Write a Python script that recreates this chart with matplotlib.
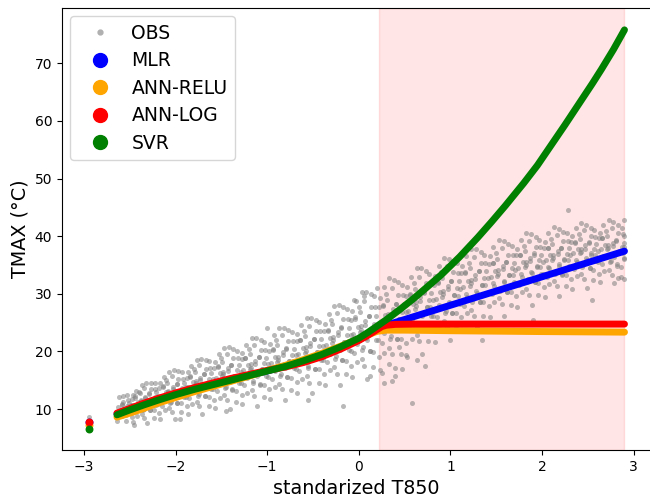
import numpy as np
import matplotlib.pyplot as plt
from matplotlib.lines import Line2D

# model curves
svr_x = [-2.64, -2.5, -2.35, -2.2, -2.0, -1.8, -1.6, -1.4, -1.2, -1.0, -0.8, -0.6, -0.4, -0.2,
         0.0, 0.1, 0.2, 0.3, 0.45, 0.6, 0.74, 0.9, 1.1, 1.3, 1.45, 1.6, 1.8, 1.95, 2.1, 2.25,
         2.4, 2.55, 2.65, 2.78, 2.9]
svr_y = [9.0, 9.85, 10.7, 11.5, 12.5, 13.4, 14.2, 15.0, 15.8, 16.6, 17.4, 18.4, 19.5, 20.8,
         22.3, 23.3, 24.4, 25.5, 27.3, 29.2, 31.1, 33.3, 36.4, 39.8, 42.5, 45.3, 49.2, 52.3, 55.8, 59.3,
         62.9, 66.5, 69.0, 72.4, 75.8]

log_x = [-2.64, -2.5, -2.35, -2.2, -2.0, -1.8, -1.6, -1.4, -1.2, -1.0, -0.8, -0.6, -0.4, -0.2,
         0.0, 0.1, 0.2, 0.25, 0.3, 0.4, 0.6, 1.0, 2.0, 2.9]
log_y = [9.3, 10.1, 11.0, 11.8, 12.8, 13.7, 14.5, 15.3, 16.0, 16.7, 17.3, 18.1, 19.1, 20.4,
         21.9, 22.8, 23.8, 24.3, 24.55, 24.7, 24.75, 24.75, 24.75, 24.75]

relu_x = [-2.64, -2.5, -2.35, -2.2, -2.0, -1.8, -1.6, -1.4, -1.2, -1.0, -0.8, -0.6, -0.4, -0.2,
          0.0, 0.1, 0.2, 0.3, 0.5, 1.0, 2.0, 2.9]
relu_y = [8.6, 9.3, 10.1, 11.0, 12.0, 13.0, 13.9, 14.8, 15.7, 16.7, 17.6, 18.6, 19.7, 20.9,
          22.2, 22.9, 23.5, 23.7, 23.7, 23.6, 23.45, 23.35]

mlr_x = [-2.64, -2.0, -1.5, -1.0, -0.5, 0.0, 0.2, 0.35, 2.9]
mlr_y = [9.2, 12.6, 14.7, 16.6, 18.9, 22.0, 24.0, 24.8, 37.4]

# isolated predictions at the far left
out_x = -2.95
out_mlr, out_relu, out_log, out_svr = 7.8, 7.2, 7.8, 6.5

# observations (estimated from the point cloud)
obs_x = [
    -2.64, -2.58, -2.61, -2.56, -2.63, -2.59, -2.57, -2.62,
    -2.47, -2.54, -2.49, -2.52, -2.46, -2.51, -2.48, -2.53,
    -2.42, -2.36, -2.43, -2.39, -2.38, -2.44, -2.40, -2.37,
    -2.34, -2.28, -2.31, -2.26, -2.33, -2.29, -2.27, -2.32,
    -2.17, -2.24, -2.19, -2.22, -2.16, -2.21, -2.18, -2.23,
    -2.12, -2.06, -2.13, -2.09, -2.08, -2.14, -2.10, -2.07,
    -2.04, -1.98, -2.01, -1.96, -2.03, -1.99, -1.97, -2.02,
    -1.87, -1.94, -1.89, -1.92, -1.86, -1.91, -1.88, -1.93,
    -1.82, -1.76, -1.83, -1.79, -1.78, -1.84, -1.80, -1.77,
    -1.74, -1.68, -1.71, -1.66, -1.73, -1.69, -1.67, -1.72,
    -1.57, -1.64, -1.59, -1.62, -1.56, -1.61, -1.58, -1.63,
    -1.52, -1.46, -1.53, -1.49, -1.48, -1.54, -1.50, -1.47,
    -1.44, -1.38, -1.41, -1.36, -1.43, -1.39, -1.37, -1.42,
    -1.27, -1.34, -1.29, -1.32, -1.26, -1.31, -1.28, -1.33,
    -1.22, -1.16, -1.23, -1.19, -1.18, -1.24, -1.20, -1.17,
    -1.14, -1.08, -1.11, -1.06, -1.13, -1.09, -1.07, -1.12,
    -0.97, -1.04, -0.99, -1.02, -0.96, -1.01, -0.98, -1.03,
    -0.92, -0.86, -0.93, -0.89, -0.88, -0.94, -0.90, -0.87,
    -0.84, -0.78, -0.81, -0.76, -0.83, -0.79, -0.77, -0.82,
    -0.67, -0.74, -0.69, -0.72, -0.66, -0.71, -0.68, -0.73,
    -0.62, -0.56, -0.63, -0.59, -0.58, -0.64, -0.60, -0.57,
    -0.54, -0.48, -0.51, -0.46, -0.53, -0.49, -0.47, -0.52,
    -0.37, -0.44, -0.39, -0.42, -0.36, -0.41, -0.38, -0.43,
    -0.32, -0.26, -0.33, -0.29, -0.28, -0.34, -0.30, -0.27,
    -0.24, -0.18, -0.21, -0.16, -0.23, -0.19, -0.17, -0.22,
    -0.07, -0.14, -0.09, -0.12, -0.06, -0.11, -0.08, -0.13,
    -0.02, 0.04, -0.03, 0.01, 0.02, -0.04, 0.00, 0.03,
    0.06, 0.12, 0.09, 0.14, 0.07, 0.11, 0.13, 0.08,
    0.23, 0.16, 0.21, 0.18, 0.24, 0.19, 0.22, 0.17,
    0.28, 0.34, 0.27, 0.31, 0.32, 0.26, 0.30, 0.33,
    0.36, 0.42, 0.39, 0.44, 0.37, 0.41, 0.43, 0.38,
    0.53, 0.46, 0.51, 0.48, 0.54, 0.49, 0.52, 0.47,
    0.58, 0.64, 0.57, 0.61, 0.62, 0.56, 0.60, 0.63,
    0.66, 0.72, 0.69, 0.74, 0.67, 0.71, 0.73, 0.68,
    0.83, 0.76, 0.81, 0.78, 0.84, 0.79, 0.82, 0.77,
    0.88, 0.94, 0.87, 0.91, 0.92, 0.86, 0.90, 0.93,
    0.96, 1.02, 0.99, 1.04, 0.97, 1.01, 1.03, 0.98,
    1.13, 1.06, 1.11, 1.08, 1.14, 1.09, 1.12, 1.07,
    1.18, 1.24, 1.17, 1.21, 1.22, 1.16, 1.20, 1.23,
    1.26, 1.32, 1.29, 1.34, 1.27, 1.31, 1.33, 1.28,
    1.43, 1.36, 1.41, 1.38, 1.44, 1.39, 1.42, 1.37,
    1.48, 1.54, 1.47, 1.51, 1.52, 1.46, 1.50, 1.53,
    1.56, 1.62, 1.59, 1.64, 1.57, 1.61, 1.63, 1.58,
    1.73, 1.66, 1.71, 1.68, 1.74, 1.69, 1.72, 1.67,
    1.78, 1.84, 1.77, 1.81, 1.82, 1.76, 1.80, 1.83,
    1.86, 1.92, 1.89, 1.94, 1.87, 1.91, 1.93, 1.88,
    2.03, 1.96, 2.01, 1.98, 2.04, 1.99, 2.02, 1.97,
    2.08, 2.14, 2.07, 2.11, 2.12, 2.06, 2.10, 2.13,
    2.16, 2.22, 2.19, 2.24, 2.17, 2.21, 2.23, 2.18,
    2.33, 2.26, 2.31, 2.28, 2.34, 2.29, 2.32, 2.27,
    2.38, 2.44, 2.37, 2.41, 2.42, 2.36, 2.40, 2.43,
    2.46, 2.52, 2.49, 2.54, 2.47, 2.51, 2.53, 2.48,
    2.63, 2.56, 2.61, 2.58, 2.64, 2.59, 2.62, 2.57,
    2.68, 2.74, 2.67, 2.71, 2.72, 2.66, 2.70, 2.73,
    2.76, 2.82, 2.79, 2.84, 2.77, 2.81, 2.83, 2.78,
    2.90, 2.86, 2.89, 2.88, 2.90, 2.89, 2.90, 2.87,
    -2.95, -2.45, -1.95, -1.45, -0.55, -0.17, 0.28, 0.40, 0.58, 0.72,
    1.35, 1.90, 2.55, 2.90, 2.83, 1.20, 0.20, -1.00, 2.28,
    0.25, 0.33, 0.47, 0.52, 0.64, 0.36, 0.44, 0.12, 0.06, -0.05,
]
obs_y = [
    8.0, 8.8, 9.4, 9.9, 10.3, 10.7, 11.2, 12.1,
    7.7, 8.9, 9.6, 10.1, 10.7, 11.1, 11.7, 12.4,
    8.8, 9.8, 10.4, 11.1, 11.5, 12.2, 13.0, 14.1,
    8.5, 9.8, 10.7, 11.4, 11.9, 12.7, 13.4, 14.6,
    8.3, 9.8, 10.8, 11.5, 12.3, 12.9, 13.6, 14.6,
    9.8, 11.0, 11.8, 12.6, 13.2, 14.0, 15.0, 16.4,
    9.5, 11.0, 12.1, 12.9, 13.5, 14.4, 15.2, 16.7,
    9.2, 11.0, 12.1, 13.0, 13.8, 14.5, 15.4, 16.5,
    10.9, 12.3, 13.2, 14.1, 14.8, 15.7, 16.9, 18.5,
    10.6, 12.2, 13.4, 14.4, 15.1, 16.1, 17.0, 18.7,
    10.2, 12.1, 13.4, 14.4, 15.4, 16.2, 17.2, 18.4,
    12.0, 13.6, 14.6, 15.7, 16.4, 17.5, 18.8, 20.6,
    11.5, 13.4, 14.7, 15.8, 16.6, 17.7, 18.8, 20.7,
    10.9, 13.1, 14.5, 15.6, 16.8, 17.6, 18.7, 20.1,
    12.8, 14.6, 15.7, 16.9, 17.8, 18.9, 20.4, 22.4,
    12.2, 14.3, 15.8, 17.0, 17.9, 19.1, 20.3, 22.4,
    11.7, 14.1, 15.6, 16.8, 18.0, 18.9, 20.1, 21.6,
    13.9, 15.7, 17.0, 18.2, 19.1, 20.4, 21.9, 24.1,
    13.4, 15.6, 17.2, 18.4, 19.3, 20.6, 21.8, 24.0,
    12.8, 15.4, 17.0, 18.3, 19.5, 20.5, 21.8, 23.4,
    15.2, 17.2, 18.4, 19.7, 20.7, 22.0, 23.6, 25.8,
    14.6, 16.9, 18.6, 19.9, 20.9, 22.2, 23.5, 25.8,
    14.2, 16.9, 18.5, 19.8, 21.2, 22.2, 23.5, 25.1,
    16.7, 18.7, 20.1, 21.4, 22.5, 23.8, 25.5, 27.9,
    16.1, 18.5, 20.3, 21.7, 22.8, 24.2, 25.6, 28.0,
    15.5, 18.3, 20.1, 21.6, 23.0, 24.1, 25.5, 27.3,
    18.1, 20.3, 21.8, 23.3, 24.4, 25.9, 27.7, 30.3,
    17.4, 20.1, 22.0, 23.5, 24.6, 26.2, 27.7, 30.3,
    16.8, 19.9, 21.9, 23.4, 25.0, 26.2, 27.7, 29.7,
    19.8, 22.2, 23.7, 25.3, 26.5, 28.0, 30.0, 32.7,
    19.5, 22.2, 24.1, 25.6, 26.7, 28.3, 29.8, 32.4,
    19.1, 22.1, 24.0, 25.5, 27.1, 28.2, 29.7, 31.6,
    22.2, 24.4, 25.9, 27.4, 28.5, 30.0, 31.8, 34.4,
    21.8, 24.4, 26.2, 27.7, 28.8, 30.3, 31.8, 34.4,
    21.6, 24.4, 26.2, 27.7, 29.1, 30.2, 31.6, 33.4,
    24.4, 26.6, 28.0, 29.5, 30.5, 32.0, 33.8, 36.3,
    24.2, 26.7, 28.4, 29.8, 30.9, 32.3, 33.7, 36.1,
    23.8, 26.6, 28.3, 29.7, 31.1, 32.2, 33.6, 35.3,
    26.6, 28.6, 30.0, 31.3, 32.4, 33.7, 35.4, 37.8,
    26.2, 28.5, 30.2, 31.6, 32.6, 34.0, 35.3, 37.7,
    25.9, 28.6, 30.2, 31.5, 32.9, 33.9, 35.2, 36.8,
    28.5, 30.5, 31.8, 33.1, 34.1, 35.4, 37.1, 39.4,
    28.2, 30.4, 32.0, 33.3, 34.3, 35.5, 36.8, 39.1,
    27.7, 30.3, 31.9, 33.2, 34.4, 35.4, 36.7, 38.3,
    30.3, 32.1, 33.4, 34.6, 35.5, 36.8, 38.3, 40.5,
    29.8, 32.0, 33.6, 34.8, 35.7, 37.0, 38.2, 40.4,
    29.5, 31.9, 33.4, 34.6, 35.8, 36.7, 37.9, 39.4,
    31.7, 33.5, 34.7, 35.9, 36.8, 38.0, 39.5, 41.6,
    31.4, 33.4, 34.8, 36.0, 36.9, 38.0, 39.2, 41.2,
    30.9, 33.2, 34.7, 35.8, 37.0, 37.9, 39.0, 40.5,
    33.1, 34.7, 35.9, 37.0, 37.8, 38.9, 40.3, 42.3,
    32.5, 34.5, 35.9, 37.0, 37.8, 39.0, 40.1, 42.0,
    32.1, 34.2, 35.6, 36.7, 37.7, 38.6, 39.6, 41.0,
    33.9, 35.5, 36.6, 37.7, 38.5, 39.6, 40.9, 42.8,
    33.2, 35.1, 36.4, 37.5, 38.3, 39.4, 40.5, 42.4,
    32.5, 34.6, 36.0, 37.1, 38.1, 38.9, 40.0, 41.4,
    8.7, 7.2, 8.3, 9.6, 11.6, 10.5, 14.6, 15.8, 11.0, 17.5,
    22.0, 25.5, 29.0, 42.8, 32.7, 38.5, 31.0, 24.0, 44.5,
    16.2, 17.8, 16.9, 19.4, 18.6, 14.9, 20.7, 15.8, 29.6, 28.9,
]

# second pass over the cloud, between the columns above
obs_x2 = [
    -2.54, -2.58, -2.51, -2.56, -2.53, -2.59, -2.52, -2.57,
    -2.48, -2.45, -2.42, -2.49, -2.41, -2.44, -2.47, -2.43,
    -2.31, -2.37, -2.35, -2.32, -2.38, -2.33, -2.39, -2.34,
    -2.24, -2.28, -2.21, -2.26, -2.23, -2.29, -2.22, -2.27,
    -2.18, -2.15, -2.12, -2.19, -2.11, -2.14, -2.17, -2.13,
    -2.01, -2.07, -2.05, -2.02, -2.08, -2.03, -2.09, -2.04,
    -1.94, -1.98, -1.91, -1.96, -1.93, -1.99, -1.92, -1.97,
    -1.88, -1.85, -1.82, -1.89, -1.81, -1.84, -1.87, -1.83,
    -1.71, -1.77, -1.75, -1.72, -1.78, -1.73, -1.79, -1.74,
    -1.64, -1.68, -1.61, -1.66, -1.63, -1.69, -1.62, -1.67,
    -1.58, -1.55, -1.52, -1.59, -1.51, -1.54, -1.57, -1.53,
    -1.41, -1.47, -1.45, -1.42, -1.48, -1.43, -1.49, -1.44,
    -1.34, -1.38, -1.31, -1.36, -1.33, -1.39, -1.32, -1.37,
    -1.28, -1.25, -1.22, -1.29, -1.21, -1.24, -1.27, -1.23,
    -1.11, -1.17, -1.15, -1.12, -1.18, -1.13, -1.19, -1.14,
    -1.04, -1.08, -1.01, -1.06, -1.03, -1.09, -1.02, -1.07,
    -0.98, -0.95, -0.92, -0.99, -0.91, -0.94, -0.97, -0.93,
    -0.81, -0.87, -0.85, -0.82, -0.88, -0.83, -0.89, -0.84,
    -0.74, -0.78, -0.71, -0.76, -0.73, -0.79, -0.72, -0.77,
    -0.68, -0.65, -0.62, -0.69, -0.61, -0.64, -0.67, -0.63,
    -0.51, -0.57, -0.55, -0.52, -0.58, -0.53, -0.59, -0.54,
    -0.44, -0.48, -0.41, -0.46, -0.43, -0.49, -0.42, -0.47,
    -0.38, -0.35, -0.32, -0.39, -0.31, -0.34, -0.37, -0.33,
    -0.21, -0.27, -0.25, -0.22, -0.28, -0.23, -0.29, -0.24,
    -0.14, -0.18, -0.11, -0.16, -0.13, -0.19, -0.12, -0.17,
    -0.08, -0.05, -0.02, -0.09, -0.01, -0.04, -0.07, -0.03,
    0.09, 0.03, 0.05, 0.08, 0.02, 0.07, 0.01, 0.06,
    0.16, 0.12, 0.19, 0.14, 0.17, 0.11, 0.18, 0.13,
    0.22, 0.25, 0.28, 0.21, 0.29, 0.26, 0.23, 0.27,
    0.39, 0.33, 0.35, 0.38, 0.32, 0.37, 0.31, 0.36,
    0.46, 0.42, 0.49, 0.44, 0.47, 0.41, 0.48, 0.43,
    0.52, 0.55, 0.58, 0.51, 0.59, 0.56, 0.53, 0.57,
    0.69, 0.63, 0.65, 0.68, 0.62, 0.67, 0.61, 0.66,
    0.76, 0.72, 0.79, 0.74, 0.77, 0.71, 0.78, 0.73,
    0.82, 0.85, 0.88, 0.81, 0.89, 0.86, 0.83, 0.87,
    0.99, 0.93, 0.95, 0.98, 0.92, 0.97, 0.91, 0.96,
    1.06, 1.02, 1.09, 1.04, 1.07, 1.01, 1.08, 1.03,
    1.12, 1.15, 1.18, 1.11, 1.19, 1.16, 1.13, 1.17,
    1.29, 1.23, 1.25, 1.28, 1.22, 1.27, 1.21, 1.26,
    1.36, 1.32, 1.39, 1.34, 1.37, 1.31, 1.38, 1.33,
    1.42, 1.45, 1.48, 1.41, 1.49, 1.46, 1.43, 1.47,
    1.59, 1.53, 1.55, 1.58, 1.52, 1.57, 1.51, 1.56,
    1.66, 1.62, 1.69, 1.64, 1.67, 1.61, 1.68, 1.63,
    1.72, 1.75, 1.78, 1.71, 1.79, 1.76, 1.73, 1.77,
    1.89, 1.83, 1.85, 1.88, 1.82, 1.87, 1.81, 1.86,
    1.96, 1.92, 1.99, 1.94, 1.97, 1.91, 1.98, 1.93,
    2.02, 2.05, 2.08, 2.01, 2.09, 2.06, 2.03, 2.07,
    2.19, 2.13, 2.15, 2.18, 2.12, 2.17, 2.11, 2.16,
    2.26, 2.22, 2.29, 2.24, 2.27, 2.21, 2.28, 2.23,
    2.32, 2.35, 2.38, 2.31, 2.39, 2.36, 2.33, 2.37,
    2.49, 2.43, 2.45, 2.48, 2.42, 2.47, 2.41, 2.46,
    2.56, 2.52, 2.59, 2.54, 2.57, 2.51, 2.58, 2.53,
    2.62, 2.65, 2.68, 2.61, 2.69, 2.66, 2.63, 2.67,
    2.79, 2.73, 2.75, 2.78, 2.72, 2.77, 2.71, 2.76,
    2.86, 2.82, 2.89, 2.84, 2.87, 2.81, 2.88, 2.83,
]
obs_y2 = [
    7.9, 8.9, 9.5, 10.0, 10.5, 10.9, 11.5, 12.2,
    8.6, 9.5, 10.1, 10.7, 11.3, 11.9, 12.5, 13.2,
    7.6, 9.1, 10.0, 10.7, 11.4, 12.1, 12.8, 13.7,
    8.5, 9.8, 10.7, 11.5, 12.1, 12.8, 13.5, 14.6,
    9.4, 10.6, 11.5, 12.3, 13.0, 13.8, 14.5, 15.5,
    8.3, 10.2, 11.3, 12.1, 13.0, 13.8, 14.6, 15.7,
    9.5, 11.0, 12.1, 12.9, 13.7, 14.4, 15.3, 16.6,
    10.5, 11.9, 12.9, 13.8, 14.7, 15.6, 16.4, 17.5,
    9.2, 11.3, 12.6, 13.6, 14.5, 15.4, 16.4, 17.7,
    10.5, 12.2, 13.4, 14.4, 15.3, 16.1, 17.1, 18.6,
    11.6, 13.1, 14.3, 15.3, 16.3, 17.3, 18.2, 19.5,
    10.0, 12.4, 13.9, 14.9, 16.0, 17.1, 18.1, 19.6,
    11.3, 13.3, 14.6, 15.7, 16.7, 17.7, 18.8, 20.4,
    12.4, 14.1, 15.4, 16.5, 17.7, 18.8, 19.8, 21.2,
    10.6, 13.3, 14.9, 16.1, 17.2, 18.4, 19.6, 21.2,
    12.1, 14.2, 15.7, 16.9, 18.0, 19.0, 20.2, 22.0,
    13.4, 15.2, 16.6, 17.8, 19.0, 20.2, 21.3, 22.8,
    11.6, 14.4, 16.1, 17.4, 18.6, 19.9, 21.1, 22.8,
    13.3, 15.5, 17.1, 18.3, 19.4, 20.5, 21.8, 23.7,
    14.7, 16.6, 18.0, 19.3, 20.6, 21.9, 23.0, 24.6,
    12.8, 15.8, 17.5, 18.8, 20.1, 21.4, 22.7, 24.5,
    14.6, 16.9, 18.6, 19.9, 21.0, 22.2, 23.5, 25.5,
    16.1, 18.1, 19.6, 21.0, 22.3, 23.6, 24.8, 26.5,
    14.2, 17.3, 19.2, 20.5, 21.9, 23.3, 24.7, 26.6,
    16.0, 18.5, 20.2, 21.6, 22.9, 24.1, 25.6, 27.7,
    17.5, 19.7, 21.3, 22.8, 24.2, 25.7, 27.0, 28.8,
    15.3, 18.7, 20.8, 22.3, 23.8, 25.3, 26.8, 28.8,
    17.3, 20.0, 21.9, 23.5, 24.8, 26.2, 27.7, 30.0,
    19.1, 21.4, 23.2, 24.7, 26.3, 27.9, 29.2, 31.2,
    17.2, 20.6, 22.7, 24.3, 25.8, 27.4, 28.9, 31.0,
    19.5, 22.2, 24.1, 25.6, 26.9, 28.2, 29.8, 32.0,
    21.4, 23.7, 25.3, 26.8, 28.3, 29.8, 31.2, 33.0,
    19.6, 22.9, 25.0, 26.4, 27.9, 29.4, 30.9, 32.9,
    21.8, 24.4, 26.2, 27.7, 29.0, 30.2, 31.7, 33.9,
    23.7, 25.9, 27.5, 28.9, 30.4, 31.8, 33.1, 34.9,
    22.0, 25.2, 27.1, 28.6, 30.0, 31.4, 32.8, 34.8,
    24.1, 26.6, 28.4, 29.8, 31.0, 32.2, 33.6, 35.7,
    25.9, 27.9, 29.5, 30.9, 32.3, 33.6, 34.8, 36.6,
    24.2, 27.2, 29.1, 30.5, 31.8, 33.2, 34.5, 36.4,
    26.2, 28.6, 30.2, 31.6, 32.7, 33.9, 35.3, 37.3,
    27.9, 29.9, 31.3, 32.7, 34.0, 35.3, 36.5, 38.1,
    26.2, 29.2, 30.9, 32.2, 33.5, 34.8, 36.1, 37.9,
    28.1, 30.4, 32.0, 33.2, 34.4, 35.5, 36.8, 38.7,
    29.6, 31.5, 32.9, 34.2, 35.5, 36.7, 37.8, 39.4,
    28.0, 30.8, 32.5, 33.8, 35.0, 36.3, 37.5, 39.2,
    29.8, 32.0, 33.5, 34.7, 35.8, 36.8, 38.1, 39.9,
    31.2, 33.0, 34.4, 35.6, 36.8, 38.0, 39.0, 40.5,
    29.6, 32.3, 33.9, 35.1, 36.2, 37.4, 38.6, 40.2,
    31.3, 33.3, 34.8, 35.9, 36.9, 37.9, 39.1, 40.8,
    32.6, 34.3, 35.6, 36.7, 37.8, 39.0, 40.0, 41.4,
    31.0, 33.5, 35.0, 36.2, 37.3, 38.4, 39.5, 41.0,
    32.4, 34.4, 35.7, 36.8, 37.8, 38.8, 39.9, 41.5,
    33.5, 35.1, 36.4, 37.4, 38.5, 39.6, 40.5, 41.9,
    31.8, 34.2, 35.7, 36.8, 37.9, 38.9, 40.0, 41.5,
    33.0, 34.9, 36.2, 37.3, 38.2, 39.2, 40.3, 41.9,
]

fig = plt.figure(figsize=(6.5, 4.98), dpi=100)
ax = fig.add_axes([0.0954, 0.0964, 0.9062, 0.8876])

ax.axvspan(0.22, 2.9, color='red', alpha=0.1, zorder=0)

ax.scatter(obs_x + obs_x2, obs_y + obs_y2, s=13, color='#808080', alpha=0.55,
           linewidths=0, zorder=1)

lw = 5
ax.plot(mlr_x, mlr_y, color='blue', lw=lw, solid_capstyle='round', zorder=2)
ax.plot(relu_x, relu_y, color='orange', lw=lw, solid_capstyle='round', zorder=3)
ax.plot(log_x, log_y, color='red', lw=lw, solid_capstyle='round', zorder=4)
ax.plot(svr_x, svr_y, color='green', lw=lw, solid_capstyle='round', zorder=5)

ax.scatter([out_x], [out_mlr], s=22, color='blue', zorder=2)
ax.scatter([out_x], [out_relu], s=22, color='orange', zorder=3)
ax.scatter([out_x], [out_log], s=22, color='red', zorder=4)
ax.scatter([out_x], [out_svr], s=22, color='green', zorder=5)

ax.set_xlim(-3.24, 3.19)
ax.set_ylim(2.9, 79.6)
ax.set_xticks([-3, -2, -1, 0, 1, 2, 3])
ax.set_yticks([10, 20, 30, 40, 50, 60, 70])
ax.tick_params(labelsize=10)
ax.spines['right'].set_visible(False)

ax.set_xlabel('standarized T850', fontsize=13.8)
ax.set_ylabel('TMAX (°C)', fontsize=13.8)

handles = [
    Line2D([], [], ls='', marker='o', ms=3.5, color='#b0b0b0'),
    Line2D([], [], ls='', marker='o', ms=10, color='blue'),
    Line2D([], [], ls='', marker='o', ms=10, color='orange'),
    Line2D([], [], ls='', marker='o', ms=10, color='red'),
    Line2D([], [], ls='', marker='o', ms=10, color='green'),
]
labels = ['OBS', 'MLR', 'ANN-RELU', 'ANN-LOG', 'SVR']
ax.legend(handles, labels, loc='upper left', fontsize=13.5, handlelength=2.3,
          handletextpad=0.55, labelspacing=0.45, borderaxespad=0.45)

fig.savefig('out.png', dpi=100)
